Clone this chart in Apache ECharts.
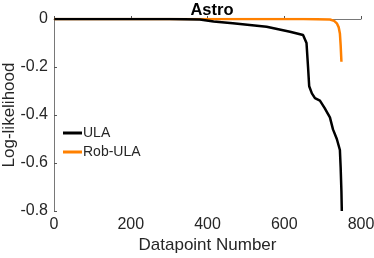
<!DOCTYPE html>
<html><head><meta charset="utf-8">
<script src="https://cdn.jsdelivr.net/npm/echarts@6/dist/echarts.min.js"></script>
<style>html,body{margin:0;padding:0;background:#fff}#c{width:374px;height:258px}</style>
</head><body><div id="c"></div>
<script>
const title = 'Astro';
const xTicks = [0, 200, 400, 600, 800];
const yTicks = [0, -0.2, -0.4, -0.6, -0.8];
const ulaX = [1, 100, 200, 300, 380, 416, 466, 554, 615, 649, 658, 662, 665, 672, 680, 693, 705, 719, 727, 737, 745, 747, 749, 750];
const ulaY = [0, 0, 0, 0, -0.002, -0.01, -0.018, -0.032, -0.053, -0.067, -0.1, -0.2, -0.28, -0.31, -0.33, -0.34, -0.37, -0.41, -0.46, -0.5, -0.546, -0.62, -0.72, -0.8];
const robX = [1, 276, 500, 650, 719, 730, 737, 742, 745, 747, 749];
const robY = [0, 0, 0, 0, -0.002, -0.008, -0.018, -0.035, -0.06, -0.11, -0.178];
const names = ['ULA', 'Rob-ULA'];

const chart = echarts.init(document.getElementById('c'));
const font = 'Liberation Sans, Arial, sans-serif';
chart.setOption({
  animation: false,
  title: { text: title, left: 207, top: -3, textAlign: 'center',
    textStyle: { fontFamily: font, fontSize: 16.5, fontWeight: 'bold', color: '#000' } },
  grid: { left: 54, right: 13, top: 19, bottom: 47, containLabel: false, outerBoundsMode: 'none' },
  legend: {
    orient: 'vertical', left: 58, top: 121, itemWidth: 19, itemHeight: 3, itemGap: 5,
    icon: 'rect',
    textStyle: { fontFamily: font, fontSize: 14, color: '#262626', padding: [0,0,0,-4] },
    data: names
  },
  xAxis: {
    type: 'value', min: 0, max: 800, interval: 200,
    name: 'Datapoint Number', nameLocation: 'middle', nameGap: 26, nameMoveOverlap: false,
    nameTextStyle: { fontFamily: font, fontSize: 17, color: '#262626' },
    axisLine: { show: true, lineStyle: { color: '#555', width: 0.8 } },
    axisTick: { show: true, inside: true, length: 3, lineStyle: { color: '#555' } },
    axisLabel: { fontFamily: font, fontSize: 16, color: '#262626', margin: 6 },
    splitLine: { show: false }
  },
  yAxis: {
    type: 'value', min: -0.8, max: 0, interval: 0.2,
    name: 'Log-likelihood', nameLocation: 'middle', nameGap: 36, nameRotate: 90, nameMoveOverlap: false,
    nameTextStyle: { fontFamily: font, fontSize: 17, color: '#262626' },
    axisLine: { show: true, lineStyle: { color: '#555', width: 0.8 } },
    axisTick: { show: true, inside: true, length: 3, lineStyle: { color: '#555' } },
    axisLabel: { fontFamily: font, fontSize: 16, color: '#262626', margin: 6,
      formatter: v => (Math.abs(v) < 1e-9 ? '0' : v.toFixed(1)) },
    splitLine: { show: false }
  },
  series: [
    { name: names[1], type: 'line', data: robX.map((x, i) => [x, robY[i]]), showSymbol: false,
      color: '#ff8000', lineStyle: { width: 2.5, color: '#ff8000' }, z: 2 },
    { name: names[0], type: 'line', data: ulaX.map((x, i) => [x, ulaY[i]]), showSymbol: false,
      color: '#000', lineStyle: { width: 2.5, color: '#000' }, z: 3 }
  ]
});
</script></body></html>
